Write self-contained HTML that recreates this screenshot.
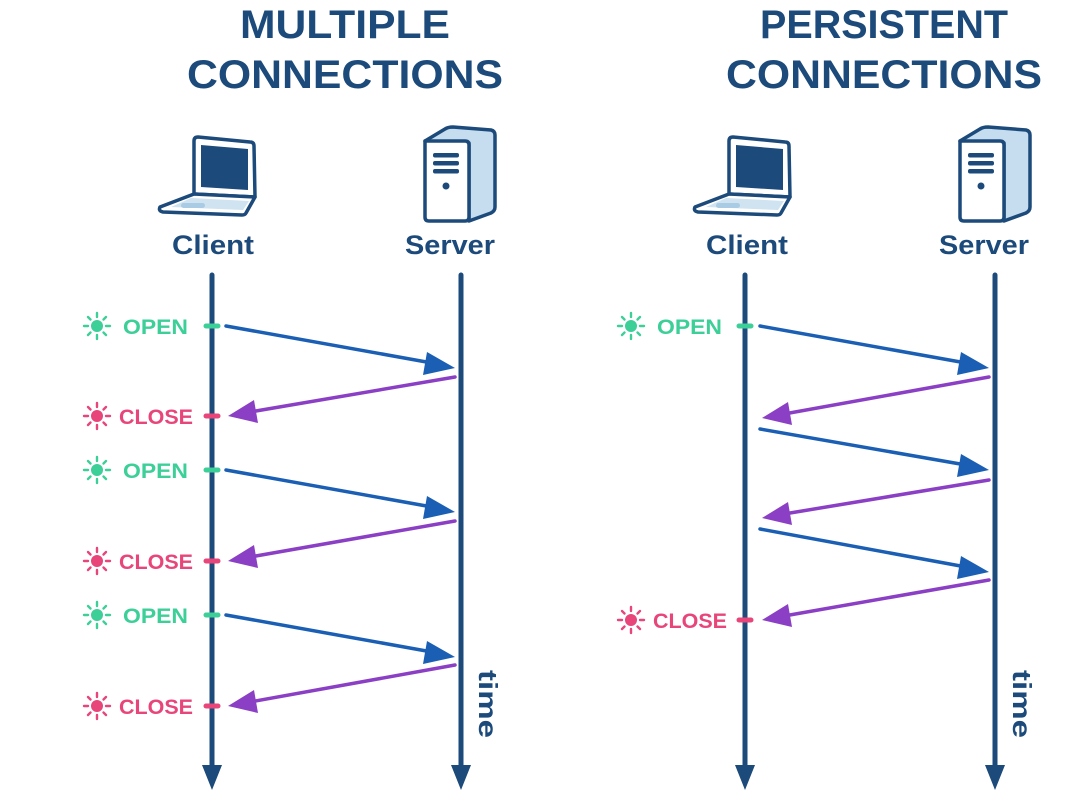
<!DOCTYPE html>
<html><head><meta charset="utf-8"><style>
html,body{margin:0;padding:0;background:#fff}
svg{display:block}
text{font-family:"Liberation Sans",sans-serif;font-weight:bold}
</style></head><body>
<svg width="1066" height="812" viewBox="0 0 1066 812" xmlns="http://www.w3.org/2000/svg">
<defs>
<g id="laptop">
 <path d="M37,17 Q37,13 41,13 L93,18 Q97,18 97,22 L98,73 L37,70 Z" fill="#fff" stroke="#1c4a7a" stroke-width="3.5" stroke-linejoin="round"/>
 <path d="M44,21 L91,25 L91,66 L44,63 Z" fill="#1c4a7a"/>
 <path d="M37,70 L98,73 L89,89 Q88,91 85,91 L6,88 Q1,87 3,83 Z" fill="#fff" stroke="#1c4a7a" stroke-width="3.5" stroke-linejoin="round"/>
 <path d="M34,74 L92,77 L86,86 L14,83 Z" fill="#cfe3f1"/>
 <rect x="24" y="79" width="24" height="5" rx="2.5" fill="#a9cbe4"/>
</g>
<g id="server">
 <path d="M2,16 L22,4 Q25,2 30,2 L68,5 Q72,6 72,10 L72,82 Q72,86 68,88 L46,96 L46,18 Z" fill="#c5ddef" stroke="#1c4a7a" stroke-width="3.5" stroke-linejoin="round"/>
 <path d="M2,16 L42,16 Q46,16 46,20 L46,92 Q46,96 42,96 L6,96 Q2,96 2,92 Z" fill="#fff" stroke="#1c4a7a" stroke-width="3.5" stroke-linejoin="round"/>
 <rect x="10" y="28" width="26" height="4.5" rx="2" fill="#1c4a7a"/>
 <rect x="10" y="36" width="26" height="4.5" rx="2" fill="#1c4a7a"/>
 <rect x="10" y="44" width="26" height="4.5" rx="2" fill="#1c4a7a"/>
 <circle cx="23" cy="61" r="3.5" fill="#1c4a7a"/>
</g>
<g id="sun">
 <circle r="5.5" />
 <g stroke-width="2.4" stroke-linecap="round">
  <line x1="0" y1="-9" x2="0" y2="-13"/><line x1="0" y1="9" x2="0" y2="13"/>
  <line x1="-9" y1="0" x2="-13" y2="0"/><line x1="9" y1="0" x2="13" y2="0"/>
  <line x1="6.5" y1="6.5" x2="9" y2="9"/><line x1="-6.5" y1="6.5" x2="-9" y2="9"/>
  <line x1="6.5" y1="-6.5" x2="9" y2="-9"/><line x1="-6.5" y1="-6.5" x2="-9" y2="-9"/>
 </g>
</g>
</defs>

<g fill="#1c4a7a" font-size="40" text-anchor="middle">
<text x="345" y="38" textLength="210" lengthAdjust="spacingAndGlyphs">MULTIPLE</text>
<text x="345" y="88" textLength="316" lengthAdjust="spacingAndGlyphs">CONNECTIONS</text>
<text x="884" y="38" textLength="248" lengthAdjust="spacingAndGlyphs">PERSISTENT</text>
<text x="884" y="88" textLength="316" lengthAdjust="spacingAndGlyphs">CONNECTIONS</text>
</g>

<use href="#laptop" x="157" y="124"/>
<use href="#server" x="423" y="125"/>
<use href="#laptop" x="692" y="124"/>
<use href="#server" x="958" y="125"/>

<g fill="#1c4a7a" font-size="27" text-anchor="middle">
<text x="213" y="254" textLength="82" lengthAdjust="spacingAndGlyphs">Client</text>
<text x="450" y="254" textLength="90" lengthAdjust="spacingAndGlyphs">Server</text>
<text x="747" y="254" textLength="82" lengthAdjust="spacingAndGlyphs">Client</text>
<text x="984" y="254" textLength="90" lengthAdjust="spacingAndGlyphs">Server</text>
</g>

<g stroke="#1c4a7a" stroke-width="5" stroke-linecap="round">
<line x1="212" y1="275" x2="212" y2="770"/>
<line x1="461" y1="275" x2="461" y2="770"/>
<line x1="745" y1="275" x2="745" y2="770"/>
<line x1="995" y1="275" x2="995" y2="770"/>
</g>
<g fill="#1c4a7a">
<polygon points="202,765 222,765 212,790"/>
<polygon points="451,765 471,765 461,790"/>
<polygon points="735,765 755,765 745,790"/>
<polygon points="985,765 1005,765 995,790"/>
</g>
<g fill="#1c4a7a" font-size="26">
<text transform="translate(479,670) rotate(90)" textLength="68" lengthAdjust="spacingAndGlyphs">time</text>
<text transform="translate(1013,670) rotate(90)" textLength="68" lengthAdjust="spacingAndGlyphs">time</text>
</g>

<g stroke-width="5" stroke-linecap="round">
<line x1="206" y1="326" x2="218" y2="326" stroke="#3dcf98"/>
<line x1="206" y1="470" x2="218" y2="470" stroke="#3dcf98"/>
<line x1="206" y1="615" x2="218" y2="615" stroke="#3dcf98"/>
<line x1="739" y1="326" x2="751" y2="326" stroke="#3dcf98"/>
<line x1="206" y1="416" x2="218" y2="416" stroke="#e8457a"/>
<line x1="206" y1="561" x2="218" y2="561" stroke="#e8457a"/>
<line x1="206" y1="706" x2="218" y2="706" stroke="#e8457a"/>
<line x1="739" y1="620" x2="751" y2="620" stroke="#e8457a"/>
</g>

<g font-size="21">
<g fill="#3dcf98" stroke="#3dcf98">
<use href="#sun" x="97" y="326"/><use href="#sun" x="97" y="470"/><use href="#sun" x="97" y="615"/><use href="#sun" x="631" y="326"/>
</g>
<g fill="#e8457a" stroke="#e8457a">
<use href="#sun" x="97" y="416"/><use href="#sun" x="97" y="561"/><use href="#sun" x="97" y="706"/><use href="#sun" x="631" y="620"/>
</g>
<g fill="#3dcf98">
<text x="123" y="334" textLength="65" lengthAdjust="spacingAndGlyphs">OPEN</text><text x="123" y="478" textLength="65" lengthAdjust="spacingAndGlyphs">OPEN</text><text x="123" y="623" textLength="65" lengthAdjust="spacingAndGlyphs">OPEN</text><text x="657" y="334" textLength="65" lengthAdjust="spacingAndGlyphs">OPEN</text>
</g>
<g fill="#e8457a">
<text x="119" y="424" textLength="74" lengthAdjust="spacingAndGlyphs">CLOSE</text><text x="119" y="569" textLength="74" lengthAdjust="spacingAndGlyphs">CLOSE</text><text x="119" y="714" textLength="74" lengthAdjust="spacingAndGlyphs">CLOSE</text><text x="653" y="628" textLength="74" lengthAdjust="spacingAndGlyphs">CLOSE</text>
</g>
</g>

<g stroke-width="3.5" stroke-linecap="round">
<g stroke="#1a5fb4">
<line x1="226" y1="326" x2="432" y2="363"/>
<line x1="226" y1="470" x2="432" y2="507"/>
<line x1="226" y1="615" x2="432" y2="652"/>
<line x1="760" y1="326" x2="966" y2="363"/>
<line x1="760" y1="429" x2="966" y2="465"/>
<line x1="760" y1="529" x2="966" y2="567"/>
</g>
<g stroke="#8b3fc4">
<line x1="455" y1="377" x2="250" y2="412"/>
<line x1="455" y1="521" x2="250" y2="557"/>
<line x1="455" y1="665" x2="250" y2="702"/>
<line x1="989" y1="377" x2="784" y2="414"/>
<line x1="989" y1="480" x2="784" y2="514"/>
<line x1="989" y1="580" x2="784" y2="616"/>
</g>
</g>
<g fill="#1a5fb4">
<polygon points="455,368 427,352 423,375"/>
<polygon points="455,512 427,496 423,519"/>
<polygon points="455,657 427,641 423,664"/>
<polygon points="989,368 961,352 957,375"/>
<polygon points="989,470 961,454 957,477"/>
<polygon points="989,572 961,556 957,579"/>
</g>
<g fill="#8b3fc4">
<polygon points="228,416 254,400 258,423"/>
<polygon points="228,561 254,545 258,568"/>
<polygon points="228,706 254,690 258,713"/>
<polygon points="762,418 788,402 792,425"/>
<polygon points="762,518 788,502 792,525"/>
<polygon points="762,620 788,604 792,627"/>
</g>
</svg>
</body></html>
